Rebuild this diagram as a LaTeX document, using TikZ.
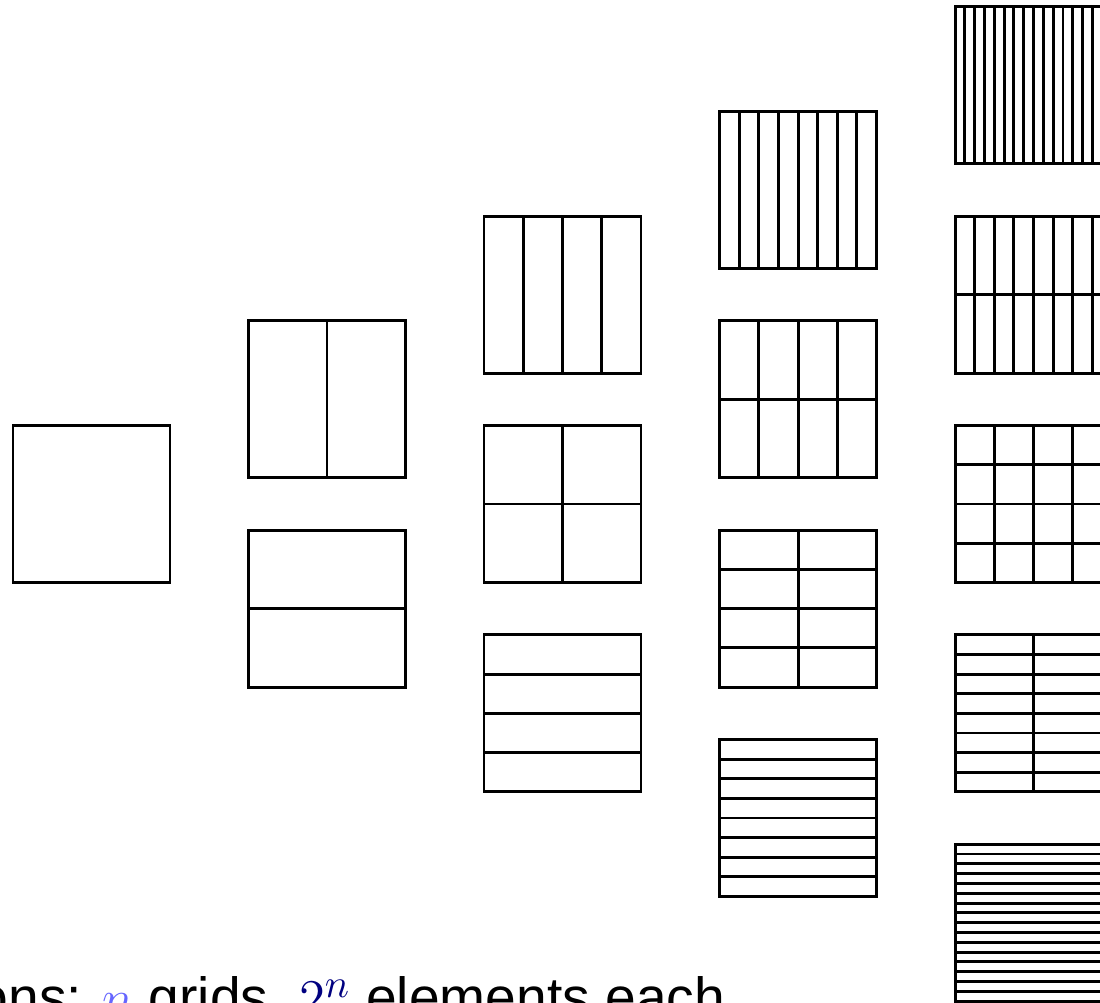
\documentclass[tikz,border=0pt]{standalone}
\usepackage{fontspec}
\setmainfont{Liberation Sans}
\usepackage{xcolor}
\definecolor{lightn}{RGB}{102,102,255}
\definecolor{darkn}{RGB}{0,0,128}

\begin{document}
\begin{tikzpicture}[gridline/.style={line width=.8pt}]
  \useasboundingbox (-0.124,-4.758) rectangle (10.385,4.815);

  % column k holds the grids with 2^(k-j) x 2^j cells
  \foreach \k in {0,...,4} {
    \foreach \j in {0,...,\k} {
      \pgfmathsetmacro{\xl}{2.25*\k}
      \pgfmathsetmacro{\yb}{\k-2*\j-0.75}
      \pgfmathtruncatemacro{\nx}{2^(\k-\j)}
      \pgfmathtruncatemacro{\ny}{2^\j}
      \draw[gridline] (\xl,\yb) rectangle ++(1.5,1.5);
      \foreach \i in {0,...,\nx}
        \draw[gridline] ({\xl+1.5*\i/\nx},\yb) -- ++(0,1.5);
      \foreach \i in {0,...,\ny}
        \draw[gridline] (\xl,{\yb+1.5*\i/\ny}) -- ++(1.5,0);
    }
  }

  \node[anchor=base west,inner sep=0pt,font=\fontsize{15}{18}\selectfont] (caption) at (-0.344,-4.9)
    {ons: \textcolor{lightn}{$n$} grids, \textcolor{darkn}{$2^n$} elements each};
\end{tikzpicture}
\end{document}
